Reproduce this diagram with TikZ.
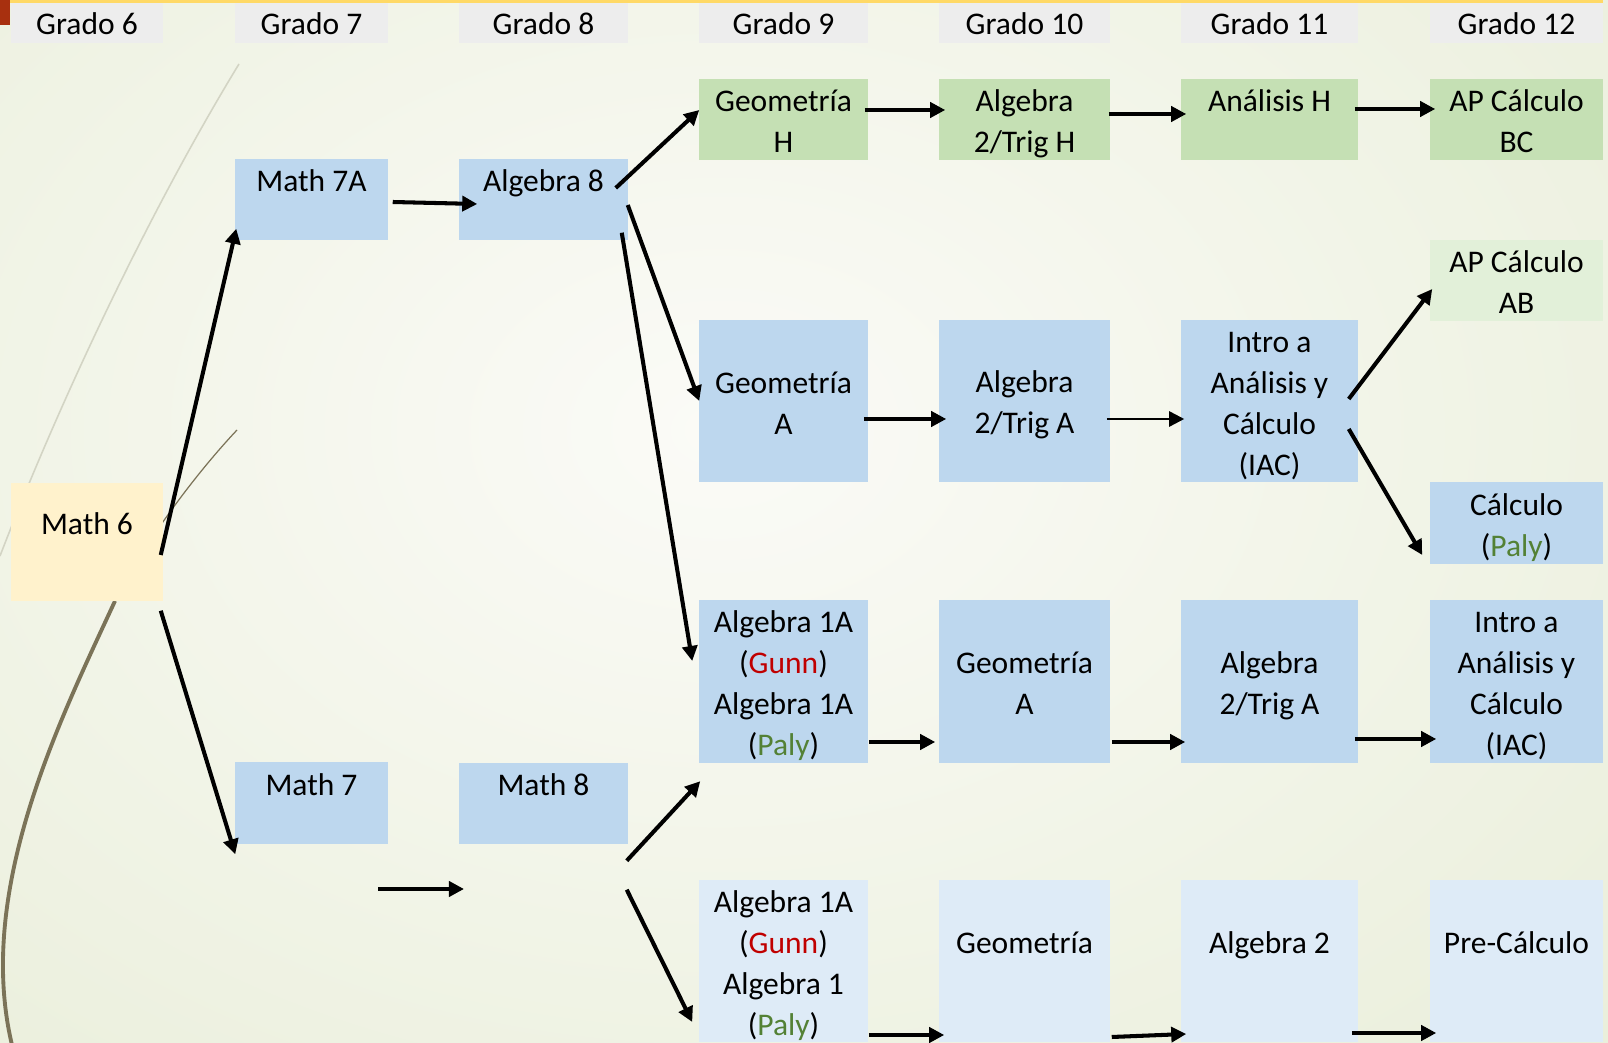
\documentclass[tikz,border=0pt]{standalone}
\usepackage{fontspec}
\setmainfont{Carlito}
\usepackage{xcolor}
\usepackage{tikz}
\usetikzlibrary{arrows.meta, calc}
\definecolor{gradogray}{HTML}{EDEDED}
\definecolor{honorgreen}{HTML}{C5E0B4}
\definecolor{apgreen}{HTML}{E2F0D9}
\definecolor{trackblue}{HTML}{BDD7EE}
\definecolor{paleblue}{HTML}{DEEBF7}
\definecolor{mathcream}{HTML}{FFF2CC}
\definecolor{gunnred}{HTML}{C00000}
\definecolor{palygreen}{HTML}{538135}
\definecolor{bginner}{HTML}{FBFBF7}
\definecolor{bgouter}{HTML}{E2E9CE}
\definecolor{wispgray}{HTML}{D3D4C4}
\definecolor{wispbrown}{HTML}{7B7358}
\definecolor{topgold}{HTML}{FFD966}
\definecolor{topred}{HTML}{A8300F}
\newcommand{\boxfont}{\fontsize{8.96pt}{11.67pt}\selectfont}

\begin{document}
\begin{tikzpicture}[x=0.01cm, y=-0.01cm,
  box/.style={inner sep=0pt, align=flush center, font=\boxfont, text=black,
              execute at begin node={\rule{0pt}{8.6pt}},
              execute at end node={\rule[-1.4pt]{0pt}{1.4pt}}},
  grado/.style={box, fill=gradogray, minimum height=0.40cm, text height=7.0pt, text depth=0.3pt},
  short/.style={box, minimum height=0.81cm},
  tall/.style={box, minimum height=1.62cm},
  upper/.style={text height=7.2pt, text depth=0.41cm},
  arr/.style={-{Triangle[length=0.15cm, width=0.15cm]}, line width=1.15pt, black},
  thinarr/.style={arr, line width=0.7pt},
]
  \useasboundingbox (0,0) rectangle (1608,1043);
  \begin{scope}
    \clip (0,0) rectangle (1608,1043);
    \shade[inner color=bginner, outer color=bgouter] (-1080,-870) rectangle (2520,1730);
    \draw[wispgray, line width=0.45pt] (239,64) .. controls (150,210) and (60,400) .. (0,556);
    \draw[wispbrown, line width=0.35pt] (237,430) .. controls (190,480) and (140,550) .. (115,601);
    \draw[wispbrown, line width=1.1pt] (115,601) .. controls (60,720) and (-25,890) .. (12,1045);
    \fill[topgold] (10,0) rectangle (1603,3);
    \fill[topred] (0,0) rectangle (10,25);
  \end{scope}

  \node[grado, text width=1.52cm] (g6) at (87,23) {Grado 6};
  \node[grado, text width=1.53cm] (g7) at (311.5,23) {Grado 7};
  \node[grado, text width=1.69cm] (g8) at (543.5,23) {Grado 8};
  \node[grado, text width=1.69cm] (g9) at (783.5,23) {Grado 9};
  \node[grado, text width=1.71cm] (g10) at (1024.5,23) {Grado 10};
  \node[grado, text width=1.77cm] (g11) at (1269.5,23) {Grado 11};
  \node[grado, text width=1.73cm] (g12) at (1516.5,23) {Grado 12};

  \node[box, upper, fill=mathcream, text width=1.52cm, minimum height=1.18cm] (m6) at (87,542) {Math 6};
  \node[short, upper, fill=trackblue, text width=1.53cm] (m7a) at (311.5,199.5) {Math 7A};
  \node[short, upper, fill=trackblue, text width=1.53cm] (m7) at (311.5,803) {Math 7};
  \node[short, upper, fill=trackblue, text width=1.69cm] (alg8) at (543.5,199.5) {Algebra 8};
  \node[short, upper, fill=trackblue, text width=1.69cm] (m8) at (543.5,803.5) {Math 8};

  \node[short, fill=honorgreen, text width=1.69cm] (geoh) at (783.5,119.5) {Geometría\\H};
  \node[short, fill=honorgreen, text width=1.71cm] (alg2h) at (1024.5,119.5) {Algebra\\2/Trig H};
  \node[short, upper, fill=honorgreen, text width=1.77cm] (anah) at (1269.5,119.5) {Análisis H};
  \node[short, fill=honorgreen, text width=1.73cm] (bc) at (1516.5,119.5) {AP Cálculo\\BC};
  \node[short, fill=apgreen, text width=1.73cm] (ab) at (1516.5,280.5) {AP Cálculo\\AB};

  \node[tall, fill=trackblue, text width=1.69cm] (geoa) at (783.5,401) {Geometría\\A};
  \node[tall, fill=trackblue, text width=1.71cm] (alg2a) at (1024.5,401) {Algebra\\2/Trig A};
  \node[tall, fill=trackblue, text width=1.77cm] (iac) at (1269.5,401) {Intro a\\Análisis y\\Cálculo\\(IAC)};
  \node[short, fill=trackblue, text width=1.73cm] (calc) at (1516.5,523) {Cálculo\\(\textcolor{palygreen}{Paly})};

  \node[tall, fill=trackblue, text width=1.69cm] (alg1a) at (783.5,681.5) {Algebra 1A\\(\textcolor{gunnred}{Gunn})\\Algebra 1A\\(\textcolor{palygreen}{Paly})};
  \node[tall, fill=trackblue, text width=1.71cm] (geoa2) at (1024.5,681.5) {Geometría\\A};
  \node[tall, fill=trackblue, text width=1.77cm] (alg2a2) at (1269.5,681.5) {Algebra\\2/Trig A};
  \node[tall, fill=trackblue, text width=1.73cm] (iac2) at (1516.5,681.5) {Intro a\\Análisis y\\Cálculo\\(IAC)};

  \node[tall, fill=paleblue, text width=1.69cm] (alg1b) at (783.5,961) {Algebra 1A\\(\textcolor{gunnred}{Gunn})\\Algebra 1\\(\textcolor{palygreen}{Paly})};
  \node[tall, upper, fill=paleblue, text width=1.71cm] (geob) at (1024.5,961) {Geometría};
  \node[tall, upper, fill=paleblue, text width=1.77cm] (alg2b) at (1269.5,961) {Algebra 2};
  \node[tall, upper, fill=paleblue, text width=1.73cm] (preb) at (1516.5,961) {Pre-Cálculo};

  \coordinate (m7out) at (378,889);
  \coordinate (m8in) at (464,889);

  \draw[arr] ($(m6.east)+(-3,13)$) -- ($(m7a.south west)+(2,-12)$);
  \draw[arr] ($(m6.south east)+(-3,9)$) -- ($(m7.south west)+(1,10)$);
  \draw[arr] ($(m7a.east)+(4,2.5)$) -- ($(alg8.west)+(19,4.5)$);
  \draw[arr] (m7out) -- (m8in);
  \draw[arr] ($(alg8.east)+(-13,-11.5)$) -- ($(geoh.west)+(1,-9.5)$);
  \draw[arr] ($(alg8.east)+(-1,5.5)$) -- ($(geoa.west)+(1,0)$);
  \draw[arr] ($(alg8.south east)+(-7,-8)$) -- ($(alg1a.west)+(-6,-20.5)$);
  \draw[arr] ($(m8.south east)+(-2,16)$) -- ($(alg1a.south west)+(2,18)$);
  \draw[arr] ($(m8.south east)+(-2,45)$) -- ($(alg1b.west)+(-6,61)$);

  \draw[arr] ($(geoh.east)+(-4,-9.5)$) -- ($(alg2h.west)+(7,-9.5)$);
  \draw[arr] ($(alg2h.east)+(-2,-5.5)$) -- ($(anah.west)+(6,-5.5)$);
  \draw[arr] ($(anah.east)+(-4,-10.5)$) -- ($(bc.west)+(6,-10.5)$);

  \draw[arr] ($(geoa.east)+(-5,18)$) -- ($(alg2a.west)+(8,18)$);
  \draw[thinarr] ($(alg2a.east)+(-4,18)$) -- ($(iac.west)+(4,18)$);
  \draw[arr] ($(iac.east)+(-10,-2)$) -- ($(ab.west)+(3,8.5)$);
  \draw[arr] ($(iac.east)+(-10,28)$) -- ($(calc.west)+(-7,32)$);

  \draw[arr] ($(alg1a.east)+(0,60.5)$) -- ($(geoa2.west)+(-3,60.5)$);
  \draw[arr] ($(geoa2.east)+(1,60.5)$) -- ($(alg2a2.west)+(5,60.5)$);
  \draw[arr] ($(alg2a2.east)+(-4,57.5)$) -- ($(iac2.west)+(7,57.5)$);

  \draw[arr] ($(alg1b.east)+(0,74)$) -- ($(geob.west)+(6,74)$);
  \draw[arr] ($(geob.east)+(1,76)$) -- ($(alg2b.west)+(6,73)$);
  \draw[arr] ($(alg2b.east)+(-7,72)$) -- ($(preb.west)+(7,72)$);
\end{tikzpicture}
\end{document}
